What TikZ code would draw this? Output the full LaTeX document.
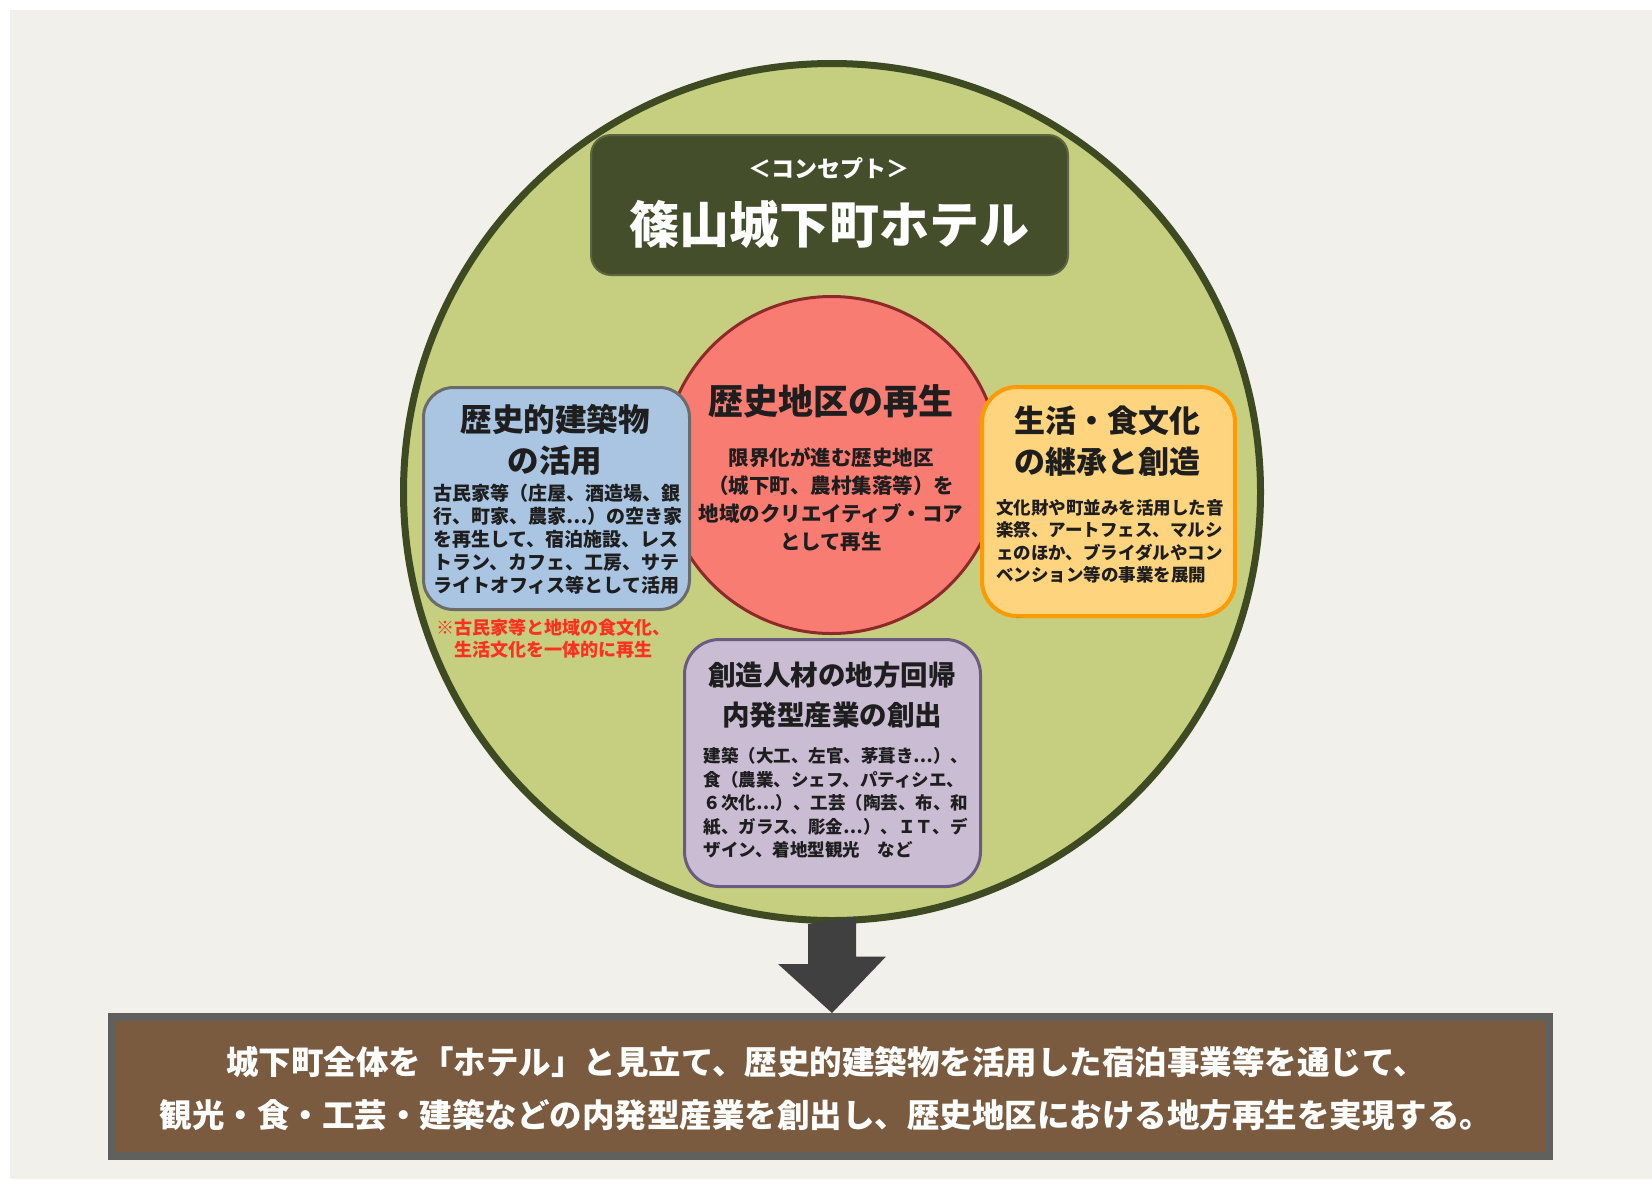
\documentclass[tikz,border=0pt]{standalone}
\usepackage{fontspec}
\setmainfont{Noto Sans CJK JP}
\definecolor{paper}{HTML}{F2F0EA}
\definecolor{ringfill}{HTML}{C6CF7F}
\definecolor{ringline}{HTML}{3E4A22}
\definecolor{headfill}{HTML}{444E2B}
\definecolor{headline}{HTML}{5C6641}
\definecolor{corefill}{HTML}{F97C73}
\definecolor{coreline}{HTML}{8C2A2A}
\definecolor{bluefill}{HTML}{A9C5E2}
\definecolor{blueline}{HTML}{6B6B6B}
\definecolor{orangefill}{HTML}{FFD47F}
\definecolor{orangeline}{HTML}{FF9A00}
\definecolor{lilacfill}{HTML}{C9BCD3}
\definecolor{lilacline}{HTML}{6A5C80}
\definecolor{notered}{HTML}{FF3020}
\definecolor{arrowfill}{HTML}{404040}
\definecolor{goalfill}{HTML}{7B5B3F}
\definecolor{goalline}{HTML}{60605C}
\definecolor{ink}{HTML}{1E1E1E}
\newcommand\setfs[2]{\fontsize{#1bp}{#2bp}\selectfont}
\tikzset{
  disk/.style={circle, inner sep=0pt},
  panel/.style={rectangle, inner sep=0pt},
  txt/.style={inner sep=0pt, align=center, text=ink}
}

\begin{document}
\begin{tikzpicture}[x=1bp,y=-1bp]
\useasboundingbox (0,0) rectangle (1652,1179);
\fill[white] (0,0) rectangle (1652,1179);
\fill[paper] (10,10) rectangle (1652,1179);

% big circle and the core
\node[disk, draw=ringline, fill=ringfill, line width=7bp, minimum size=857bp] (ring) at (832,492) {};
\node[disk, draw=coreline, fill=corefill, line width=3bp, minimum size=337bp] (core) at (831.5,465) {};

% the three panels
\node[panel, draw=blueline, fill=bluefill, line width=3bp, rounded corners=30bp,
      minimum width=266bp, minimum height=222bp] (bldg) at (556.5,498.5) {};
\node[panel, draw=orangeline, fill=orangefill, line width=4bp, rounded corners=35bp,
      minimum width=253bp, minimum height=229bp] (life) at (1108.5,501.5) {};
\node[panel, draw=lilacline, fill=lilacfill, line width=3bp, rounded corners=35bp,
      minimum width=296bp, minimum height=247bp] (people) at (832.5,763) {};

% concept box
\node[panel, draw=headline, fill=headfill, line width=2bp, rounded corners=20bp,
      minimum width=477bp, minimum height=140bp] (head) at (829.5,205) {};
\node[txt, text=white, font=\bfseries\setfs{23}{28}] (concept) at (829,168) {＜コンセプト＞};
\node[txt, text=white, font=\bfseries\setfs{50}{60}] (hotel) at (829.5,224) {篠山城下町ホテル};

% texts
\node[txt, font=\bfseries\setfs{31.5}{41}] (bldgtitle) at (555,439.5) {歴史的建築物\\の活用};
\node[txt, align=left, font=\bfseries\setfs{19}{23}] (bldgbody) at (558,539)
  {古民家等（庄屋、酒造場、銀\\行、町家、農家…）の空き家\\を再生して、宿泊施設、レス\\トラン、カフェ、工房、サテ\\ライトオフィス等として活用};
\node[txt, text=notered, font=\bfseries\setfs{18}{22}] (note) at (553,639)
  {※古民家等と地域の食文化、\\生活文化を一体的に再生};

\node[txt, font=\bfseries\setfs{35}{40}] (coretitle) at (831,401) {歴史地区の再生};
\node[txt, font=\bfseries\setfs{20.5}{28}] (corebody) at (831,499)
  {限界化が進む歴史地区\\（城下町、農村集落等）を\\地域のクリエイティブ・コア\\として再生};

\node[txt, font=\bfseries\setfs{31}{41}] (lifetitle) at (1107,441.5) {生活・食文化\\の継承と創造};
\node[txt, align=left, font=\bfseries\setfs{17.5}{22.5}] (lifebody) at (1110,541.5)
  {文化財や町並みを活用した音\\楽祭、アートフェス、マルシ\\ェのほか、ブライダルやコン\\ベンション等の事業を展開};

\node[txt, font=\bfseries\setfs{27.5}{40}] (peopletitle) at (832,695) {創造人材の地方回帰\\内発型産業の創出};
\node[txt, align=left, font=\bfseries\setfs{17.5}{23.5}] (peoplebody) at (836,803)
  {建築（大工、左官、茅葺き…）、\\食（農業、シェフ、パティシエ、\\６次化…）、工芸（陶芸、布、和\\紙、ガラス、彫金…）、ＩＴ、デ\\ザイン、着地型観光　など};

% goal
\node[panel, draw=goalline, fill=goalfill, line width=8bp,
      minimum width=1437bp, minimum height=139bp] (goal) at (830.5,1086.5) {};
\node[txt, text=white, font=\bfseries\setfs{32.5}{53}] (goaltext) at (826,1088.5)
  {城下町全体を「ホテル」と見立て、歴史的建築物を活用した宿泊事業等を通じて、\\観光・食・工芸・建築などの内発型産業を創出し、歴史地区における地方再生を実現する。};

\fill[arrowfill] ([xshift=-24bp]ring.south) -- ++(0,40) -- ++(-30,0) -- (ring.south |- goal.north)
  -- ++(54,-56.5) -- ++(-30,0) -- ++(0,-40) -- cycle;
\end{tikzpicture}
\end{document}
